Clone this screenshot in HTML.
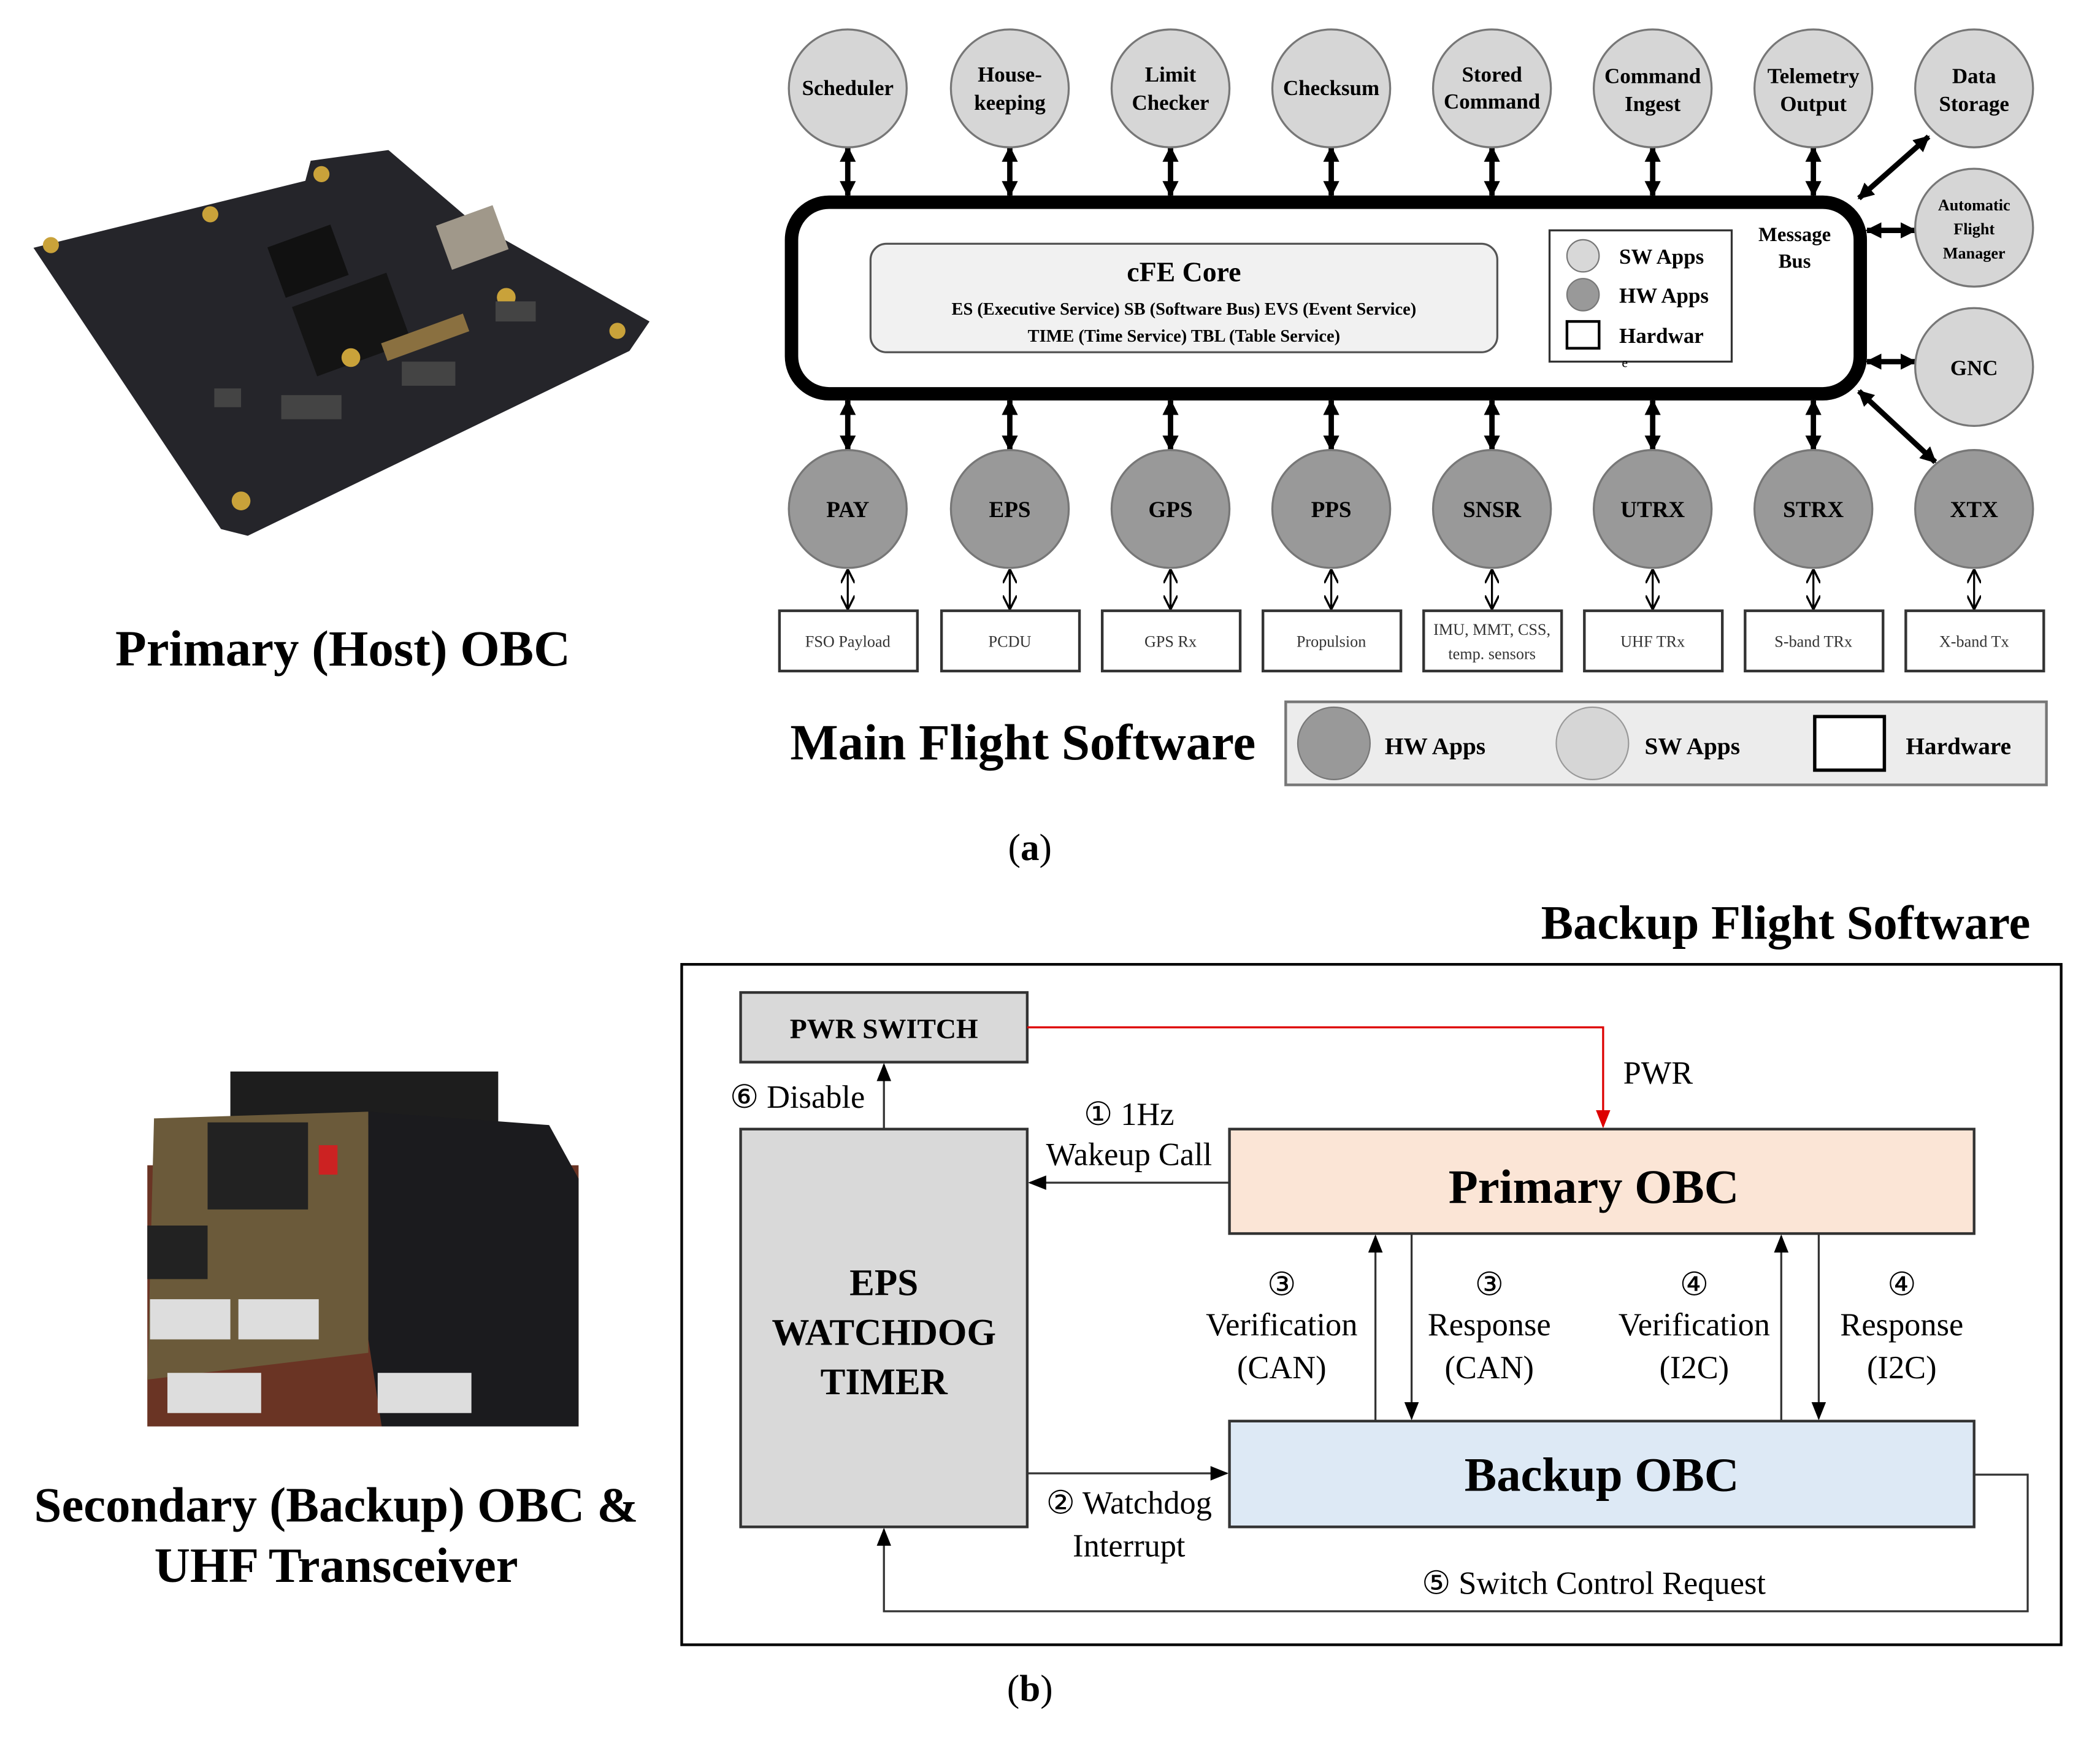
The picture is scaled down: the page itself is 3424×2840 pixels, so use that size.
<!DOCTYPE html>
<html><head><meta charset="utf-8"><style>html,body{margin:0;padding:0;background:#fff}svg{display:block}</style></head>
<body>
<svg xmlns="http://www.w3.org/2000/svg" width="3424" height="2840" viewBox="0 0 1568 1300.6" preserveAspectRatio="none" font-family="'Liberation Serif',serif">
<defs>
<marker id="as" viewBox="0 0 10 10" refX="9" refY="5" markerWidth="9" markerHeight="9" orient="auto-start-reverse"><path d="M0,1L10,5L0,9z" fill="#000"/></marker>
<marker id="ab" viewBox="0 0 10 10" refX="9" refY="5" markerUnits="userSpaceOnUse" markerWidth="12" markerHeight="12" orient="auto-start-reverse"><path d="M0,0L10,5L0,10z" fill="#000"/></marker>
<marker id="ar" viewBox="0 0 10 10" refX="9" refY="5" markerWidth="9" markerHeight="9" orient="auto"><path d="M0,1L10,5L0,9z" fill="#d00"/></marker>
<marker id="at" viewBox="0 0 10 10" refX="9" refY="5" markerWidth="7" markerHeight="7" orient="auto-start-reverse"><path d="M0,0L10,5L0,10" fill="none" stroke="#000" stroke-width="1.5"/></marker>
</defs>
<rect width="1600" height="1320" fill="#fff"/>

<!-- Primary board -->
<polygon points="25,185 228,135 232,120 290,112 352,165 485,240 470,262 185,400 165,395" fill="#25252a"/>
<rect x="205" y="175" width="50" height="40" fill="#111" transform="rotate(-20 230 195)"/>
<rect x="225" y="215" width="75" height="55" fill="#141414" transform="rotate(-20 262 242)"/>
<rect x="330" y="160" width="45" height="35" fill="#a0988a" transform="rotate(-20 352 177)"/>
<rect x="285" y="245" width="65" height="14" fill="#8a7040" transform="rotate(-20 317 252)"/>
<g fill="#c9a23a"><circle cx="38" cy="183" r="6"/><circle cx="157" cy="160" r="6"/><circle cx="240" cy="130" r="6"/><circle cx="262" cy="267" r="7"/><circle cx="378" cy="222" r="7"/><circle cx="461" cy="247" r="6"/><circle cx="180" cy="374" r="7"/></g>
<g fill="#444"><rect x="210" y="295" width="45" height="18"/><rect x="300" y="270" width="40" height="18"/><rect x="370" y="225" width="30" height="15"/><rect x="160" y="290" width="20" height="14"/></g>
<text x="256" y="497" font-size="38" font-weight="bold" text-anchor="middle">Primary (Host) OBC</text>

<!-- Bus -->
<g stroke="#000" stroke-width="4" marker-start="url(#ab)" marker-end="url(#ab)">
<line x1="633" y1="110" x2="633" y2="146"/><line x1="754" y1="110" x2="754" y2="146"/><line x1="874" y1="110" x2="874" y2="146"/><line x1="994" y1="110" x2="994" y2="146"/><line x1="1114" y1="110" x2="1114" y2="146"/><line x1="1234" y1="110" x2="1234" y2="146"/><line x1="1354" y1="110" x2="1354" y2="146"/>
<line x1="633" y1="299" x2="633" y2="336"/><line x1="754" y1="299" x2="754" y2="336"/><line x1="874" y1="299" x2="874" y2="336"/><line x1="994" y1="299" x2="994" y2="336"/><line x1="1114" y1="299" x2="1114" y2="336"/><line x1="1234" y1="299" x2="1234" y2="336"/><line x1="1354" y1="299" x2="1354" y2="336"/>
<line x1="1388" y1="148" x2="1440" y2="102"/><line x1="1394" y1="172" x2="1430" y2="172"/><line x1="1394" y1="270" x2="1430" y2="270"/><line x1="1388" y1="292" x2="1445" y2="345"/>
<line x1="600" y1="222" x2="648" y2="222"/>
</g>
<rect x="591" y="151" width="798" height="143" rx="28" fill="#fff" stroke="#000" stroke-width="10"/>
<rect x="650" y="182" width="468" height="81" rx="12" fill="#f1f1f1" stroke="#555" stroke-width="1.5"/>
<text x="884" y="210" font-size="21" font-weight="bold" text-anchor="middle">cFE Core</text>
<text x="884" y="235" font-size="13" font-weight="bold" text-anchor="middle">ES (Executive Service)    SB (Software Bus)    EVS (Event Service)</text>
<text x="884" y="255" font-size="13" font-weight="bold" text-anchor="middle">TIME (Time Service)    TBL (Table Service)</text>
<rect x="1157" y="172" width="136" height="98" fill="#fff" stroke="#333" stroke-width="1.5"/>
<circle cx="1182" cy="191" r="12" fill="#d8d8d8" stroke="#777"/><circle cx="1182" cy="220" r="12" fill="#999" stroke="#777"/><rect x="1170" y="240" width="24" height="20" fill="#fff" stroke="#000" stroke-width="2"/>
<g font-size="16" font-weight="bold"><text x="1209" y="197">SW Apps</text><text x="1209" y="226">HW Apps</text><text x="1209" y="256">Hardwar</text></g>
<text x="1211" y="274" font-size="10">e</text>
<text x="1340" y="180" font-size="15" font-weight="bold" text-anchor="middle">Message</text>
<text x="1340" y="200" font-size="15" font-weight="bold" text-anchor="middle">Bus</text>

<!-- top circles -->
<g fill="#d6d6d6" stroke="#777" stroke-width="1.5">
<circle cx="633" cy="66" r="44"/><circle cx="754" cy="66" r="44"/><circle cx="874" cy="66" r="44"/><circle cx="994" cy="66" r="44"/><circle cx="1114" cy="66" r="44"/><circle cx="1234" cy="66" r="44"/><circle cx="1354" cy="66" r="44"/><circle cx="1474" cy="66" r="44"/>
<circle cx="1474" cy="170" r="44"/><circle cx="1474" cy="274" r="44"/>
</g>
<g font-size="16" font-weight="bold" text-anchor="middle">
<text x="633" y="71">Scheduler</text>
<text x="754" y="61">House-</text><text x="754" y="82">keeping</text>
<text x="874" y="61">Limit</text><text x="874" y="82">Checker</text>
<text x="994" y="71">Checksum</text>
<text x="1114" y="61">Stored</text><text x="1114" y="81">Command</text>
<text x="1234" y="62">Command</text><text x="1234" y="83">Ingest</text>
<text x="1354" y="62">Telemetry</text><text x="1354" y="83">Output</text>
<text x="1474" y="62">Data</text><text x="1474" y="83">Storage</text>
<text x="1474" y="157" font-size="12">Automatic</text><text x="1474" y="175" font-size="12">Flight</text><text x="1474" y="193" font-size="12">Manager</text>
<text x="1474" y="280">GNC</text>
</g>
<g fill="#999" stroke="#777" stroke-width="1.5">
<circle cx="633" cy="380" r="44"/><circle cx="754" cy="380" r="44"/><circle cx="874" cy="380" r="44"/><circle cx="994" cy="380" r="44"/><circle cx="1114" cy="380" r="44"/><circle cx="1234" cy="380" r="44"/><circle cx="1354" cy="380" r="44"/><circle cx="1474" cy="380" r="44"/>
</g>
<g font-size="17" font-weight="bold" text-anchor="middle">
<text x="633" y="386">PAY</text><text x="754" y="386">EPS</text><text x="874" y="386">GPS</text><text x="994" y="386">PPS</text><text x="1114" y="386">SNSR</text><text x="1234" y="386">UTRX</text><text x="1354" y="386">STRX</text><text x="1474" y="386">XTX</text>
</g>
<g stroke="#000" stroke-width="1.5" marker-start="url(#at)" marker-end="url(#at)">
<line x1="633" y1="426" x2="633" y2="454"/><line x1="754" y1="426" x2="754" y2="454"/><line x1="874" y1="426" x2="874" y2="454"/><line x1="994" y1="426" x2="994" y2="454"/><line x1="1114" y1="426" x2="1114" y2="454"/><line x1="1234" y1="426" x2="1234" y2="454"/><line x1="1354" y1="426" x2="1354" y2="454"/><line x1="1474" y1="426" x2="1474" y2="454"/>
</g>
<g fill="#fff" stroke="#333" stroke-width="2">
<rect x="582" y="456" width="103" height="45"/><rect x="703" y="456" width="103" height="45"/><rect x="823" y="456" width="103" height="45"/><rect x="943" y="456" width="103" height="45"/><rect x="1063" y="456" width="103" height="45"/><rect x="1183" y="456" width="103" height="45"/><rect x="1303" y="456" width="103" height="45"/><rect x="1423" y="456" width="103" height="45"/>
</g>
<g font-size="12" text-anchor="middle" fill="#333">
<text x="633" y="483">FSO Payload</text><text x="754" y="483">PCDU</text><text x="874" y="483">GPS Rx</text><text x="994" y="483">Propulsion</text>
<text x="1114" y="474">IMU, MMT, CSS,</text><text x="1114" y="492">temp. sensors</text>
<text x="1234" y="483">UHF TRx</text><text x="1354" y="483">S-band TRx</text><text x="1474" y="483">X-band Tx</text>
</g>
<text x="590" y="567" font-size="38" font-weight="bold">Main Flight Software</text>
<rect x="960" y="524" width="568" height="62" fill="#ececec" stroke="#777" stroke-width="2"/>
<circle cx="996" cy="555" r="27" fill="#999" stroke="#777"/><circle cx="1189" cy="555" r="27" fill="#d6d6d6" stroke="#999"/>
<rect x="1355" y="535" width="52" height="40" fill="#fff" stroke="#000" stroke-width="2.5"/>
<g font-size="18" font-weight="bold"><text x="1034" y="563">HW Apps</text><text x="1228" y="563">SW Apps</text><text x="1423" y="563">Hardware</text></g>
<text x="769" y="642" font-size="28" text-anchor="middle">(<tspan font-weight="bold">a</tspan>)</text>

<!-- (b) -->
<text x="1516" y="701" font-size="36" font-weight="bold" text-anchor="end">Backup Flight Software</text>
<!-- secondary board -->
<rect x="110" y="870" width="322" height="195" fill="#6a3424"/>
<rect x="172" y="800" width="200" height="40" fill="#1d1d1d"/>
<polygon points="275,830 410,840 432,880 432,1065 285,1065 275,1000" fill="#1b1b1e"/>
<polygon points="115,835 275,830 275,1010 110,1030" fill="#6b5a3a"/>
<rect x="155" y="838" width="75" height="65" fill="#222"/>
<rect x="110" y="915" width="45" height="40" fill="#222"/>
<g fill="#ddd"><rect x="112" y="970" width="60" height="30"/><rect x="178" y="970" width="60" height="30"/><rect x="125" y="1025" width="70" height="30"/><rect x="282" y="1025" width="70" height="30"/></g>
<rect x="238" y="855" width="14" height="22" fill="#c22"/>
<text x="251" y="1136" font-size="37" font-weight="bold" text-anchor="middle">Secondary (Backup) OBC &amp;</text>
<text x="251" y="1181" font-size="37" font-weight="bold" text-anchor="middle">UHF Transceiver</text>

<rect x="509" y="720" width="1030" height="508" fill="#fff" stroke="#000" stroke-width="2"/>
<rect x="553" y="741" width="214" height="52" fill="#d9d9d9" stroke="#333" stroke-width="2"/>
<text x="660" y="775" font-size="21" font-weight="bold" text-anchor="middle">PWR SWITCH</text>
<rect x="553" y="843" width="214" height="297" fill="#d9d9d9" stroke="#333" stroke-width="2"/>
<g font-size="28" font-weight="bold" text-anchor="middle"><text x="660" y="967">EPS</text><text x="660" y="1004">WATCHDOG</text><text x="660" y="1041">TIMER</text></g>
<rect x="918" y="843" width="556" height="78" fill="#fbe5d6" stroke="#333" stroke-width="2"/>
<text x="1190" y="898" font-size="36" font-weight="bold" text-anchor="middle">Primary OBC</text>
<rect x="918" y="1061" width="556" height="79" fill="#dde9f5" stroke="#333" stroke-width="2"/>
<text x="1196" y="1113" font-size="36" font-weight="bold" text-anchor="middle">Backup OBC</text>

<polyline points="767,767 1197,767 1197,841" fill="none" stroke="#d00" stroke-width="1.5" marker-end="url(#ar)"/>
<text x="1212" y="809" font-size="24">PWR</text>
<line x1="660" y1="843" x2="660" y2="795" stroke="#333" stroke-width="1.5" marker-end="url(#as)"/>
<text x="545" y="827" font-size="24">⑥ Disable</text>
<line x1="918" y1="883" x2="769" y2="883" stroke="#333" stroke-width="1.5" marker-end="url(#as)"/>
<text x="843" y="840" font-size="24" text-anchor="middle">① 1Hz</text>
<text x="843" y="870" font-size="24" text-anchor="middle">Wakeup Call</text>
<line x1="767" y1="1100" x2="916" y2="1100" stroke="#333" stroke-width="1.5" marker-end="url(#as)"/>
<text x="843" y="1130" font-size="24" text-anchor="middle">② Watchdog</text>
<text x="843" y="1162" font-size="24" text-anchor="middle">Interrupt</text>
<g stroke="#333" stroke-width="1.5" marker-end="url(#as)">
<line x1="1027" y1="1061" x2="1027" y2="923"/><line x1="1054" y1="921" x2="1054" y2="1059"/>
<line x1="1330" y1="1061" x2="1330" y2="923"/><line x1="1358" y1="921" x2="1358" y2="1059"/>
</g>
<g font-size="24" text-anchor="middle">
<text x="957" y="967">③</text><text x="957" y="997">Verification</text><text x="957" y="1029">(CAN)</text>
<text x="1112" y="967">③</text><text x="1112" y="997">Response</text><text x="1112" y="1029">(CAN)</text>
<text x="1265" y="967">④</text><text x="1265" y="997">Verification</text><text x="1265" y="1029">(I2C)</text>
<text x="1420" y="967">④</text><text x="1420" y="997">Response</text><text x="1420" y="1029">(I2C)</text>
</g>
<polyline points="1474,1101 1514,1101 1514,1203 660,1203 660,1142" fill="none" stroke="#333" stroke-width="1.5" marker-end="url(#as)"/>
<text x="1190" y="1190" font-size="24" text-anchor="middle">⑤ Switch Control Request</text>
<text x="769" y="1270" font-size="28" text-anchor="middle">(<tspan font-weight="bold">b</tspan>)</text>
</svg>
</body></html>
